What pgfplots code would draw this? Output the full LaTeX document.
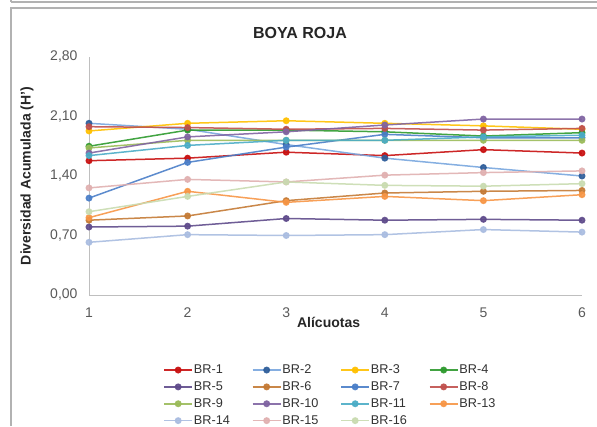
\documentclass[border=0pt]{standalone}
\usepackage{pgfplots}
\pgfplotsset{compat=1.18}
\usepackage{fontspec}
\setmainfont{Liberation Sans}
\definecolor{c1}{HTML}{C81010}
\definecolor{c2l}{HTML}{78A6DE}
\definecolor{c2m}{HTML}{2F5E9A}
\definecolor{c3}{HTML}{FFC000}
\definecolor{c4}{HTML}{2E9A2E}
\definecolor{c5}{HTML}{5F4B8B}
\definecolor{c6}{HTML}{C47A35}
\definecolor{c7}{HTML}{4A7EC8}
\definecolor{c8}{HTML}{C0504D}
\definecolor{c9}{HTML}{9BBB59}
\definecolor{c10}{HTML}{8064A2}
\definecolor{c11}{HTML}{4BACC6}
\definecolor{c13}{HTML}{F79646}
\definecolor{c14}{HTML}{A9BCE0}
\definecolor{c15}{HTML}{E0B0B0}
\definecolor{c16}{HTML}{C9DBB0}
\definecolor{txt}{HTML}{595959}
\begin{document}
\begin{tikzpicture}[x=1pt,y=1pt]
\useasboundingbox (0,0) rectangle (597,426);
\draw[gray!60, line width=1.2pt] (11,424) -- (597,424);
\draw[gray!60, line width=1.2pt] (11,426) -- (11,424);
\draw[gray!60, line width=1.2pt] (11,0) -- (11,418) -- (597,418);
\node[font=\fontsize{16}{18}\selectfont\bfseries, text=black!85] at (300,393) {BOYA ROJA};
\begin{axis}[
  scale only axis,
  width=493pt, height=238pt,
  at={(89pt,131pt)}, anchor=south west,
  xmin=1, xmax=6, ymin=0, ymax=2.8,
  xtick={1,2,3,4,5,6},
  ytick={0,0.7,1.4,2.1,2.8},
  axis lines=left,
  axis line style={-, black!25, line width=0.9pt},
  major tick length=0pt,
  tick label style={font=\fontsize{14}{16}\selectfont, text=txt},
  /pgf/number format/assume math mode=true,
  y tick label style={/pgf/number format/fixed, /pgf/number format/fixed zerofill, /pgf/number format/precision=2, /pgf/number format/use comma},
  xticklabel style={yshift=-9pt},
  yticklabel style={xshift=-8pt},
  xlabel={\textbf{Alícuotas}},
  ylabel={\textbf{Diversidad Acumulada (H')}},
  label style={font=\fontsize{14}{16}\selectfont, text=black!85},
  xlabel style={at={(axis description cs:0.486,0)}, anchor=north, yshift=-19pt},
  ylabel style={at={(axis description cs:0,0.5)}, anchor=south, xshift=0pt, yshift=52pt},
  every axis plot/.append style={line width=1.5pt, mark=*, mark size=2.7pt, opacity=0.9},
  legend columns=4,
  legend cell align=left,
  legend style={at={(0.51,-0.28)}, anchor=north, draw=none, font=\fontsize{12.7}{14}\selectfont, text=black!80,
    row sep=4.5pt,
    nodes={inner sep=1pt, text width=57pt}},
  legend image code/.code={\draw[mark repeat=2,mark phase=2] plot coordinates {(0pt,0pt) (14pt,0pt) (28pt,0pt)};},
  clip=false,
]
\addplot[color=c1, mark options={fill=c1, draw=c1}] coordinates {(1,1.58) (2,1.61) (3,1.68) (4,1.64) (5,1.71) (6,1.67)};
\addlegendentry{BR-1}
\addplot[color=c2l, mark options={fill=c2m, draw=c2m}] coordinates {(1,2.02) (2,1.95) (3,1.77) (4,1.61) (5,1.50) (6,1.40)};
\addlegendentry{BR-2}
\addplot[color=c3, mark options={fill=c3, draw=c3}] coordinates {(1,1.93) (2,2.02) (3,2.05) (4,2.02) (5,1.99) (6,1.95)};
\addlegendentry{BR-3}
\addplot[color=c4, mark options={fill=c4, draw=c4}] coordinates {(1,1.75) (2,1.94) (3,1.94) (4,1.92) (5,1.87) (6,1.91)};
\addlegendentry{BR-4}
\addplot[color=c5, mark options={fill=c5, draw=c5}] coordinates {(1,0.80) (2,0.81) (3,0.90) (4,0.88) (5,0.89) (6,0.88)};
\addlegendentry{BR-5}
\addplot[color=c6, mark options={fill=c6, draw=c6}] coordinates {(1,0.88) (2,0.93) (3,1.11) (4,1.20) (5,1.22) (6,1.23)};
\addlegendentry{BR-6}
\addplot[color=c7, mark options={fill=c7, draw=c7}] coordinates {(1,1.14) (2,1.56) (3,1.74) (4,1.89) (5,1.85) (6,1.85)};
\addlegendentry{BR-7}
\addplot[color=c8, mark options={fill=c8, draw=c8}] coordinates {(1,1.98) (2,1.97) (3,1.95) (4,1.96) (5,1.94) (6,1.96)};
\addlegendentry{BR-8}
\addplot[color=c9, mark options={fill=c9, draw=c9}] coordinates {(1,1.73) (2,1.82) (3,1.82) (4,1.82) (5,1.82) (6,1.82)};
\addlegendentry{BR-9}
\addplot[color=c10, mark options={fill=c10, draw=c10}] coordinates {(1,1.67) (2,1.86) (3,1.92) (4,2.00) (5,2.07) (6,2.07)};
\addlegendentry{BR-10}
\addplot[color=c11, mark options={fill=c11, draw=c11}] coordinates {(1,1.64) (2,1.76) (3,1.82) (4,1.82) (5,1.86) (6,1.88)};
\addlegendentry{BR-11}
\addplot[color=c13, mark options={fill=c13, draw=c13}] coordinates {(1,0.91) (2,1.22) (3,1.09) (4,1.16) (5,1.11) (6,1.18)};
\addlegendentry{BR-13}
\addplot[color=c14, mark options={fill=c14, draw=c14}] coordinates {(1,0.62) (2,0.71) (3,0.70) (4,0.71) (5,0.77) (6,0.74)};
\addlegendentry{BR-14}
\addplot[color=c15, mark options={fill=c15, draw=c15}] coordinates {(1,1.26) (2,1.36) (3,1.33) (4,1.41) (5,1.44) (6,1.46)};
\addlegendentry{BR-15}
\addplot[color=c16, mark options={fill=c16, draw=c16}] coordinates {(1,0.98) (2,1.16) (3,1.33) (4,1.29) (5,1.28) (6,1.31)};
\addlegendentry{BR-16}
\end{axis}
\end{tikzpicture}
\end{document}
